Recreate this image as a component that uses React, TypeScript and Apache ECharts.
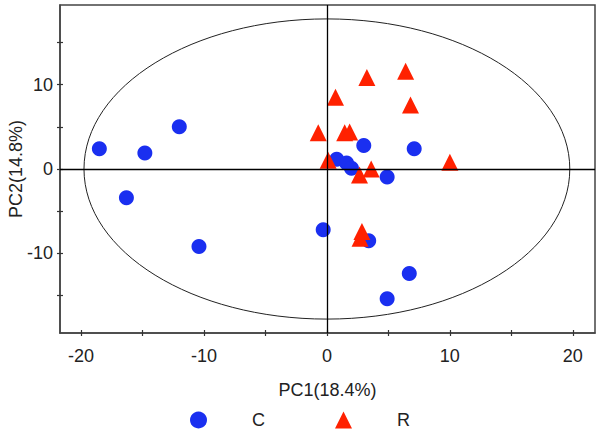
import React, { useEffect, useRef } from "react";
import * as echarts from "echarts";

// ---- data ----
const seriesNames = ["C", "R"];
const cPoints: number[][] = [
  [-18.5, 2.4],
  [-14.8, 1.9],
  [-12.0, 5.0],
  [-16.3, -3.4],
  [-10.4, -9.2],
  [-0.3, -7.2],
  [3.0, 2.8],
  [7.1, 2.4],
  [4.9, -0.95],
  [3.4, -8.5],
  [6.7, -12.4],
  [4.9, -15.4],
  [0.8, 1.15],
  [1.6, 0.7],
  [2.0, 0.1],
];
const rPoints: number[][] = [
  [6.4, 11.6],
  [3.25, 10.85],
  [0.7, 8.5],
  [6.8, 7.6],
  [-0.7, 4.3],
  [1.45, 4.3],
  [1.85, 4.4],
  [0.1, 1.05],
  [10.0, 0.8],
  [3.6, 0.0],
  [2.65, -0.7],
  [2.85, -7.4],
  [2.7, -8.2],
];
// confidence ellipse: centre and semi-axes (data units)
const ellipseCenter = [0, 0];
const ellipseRadii = [19.75, 17.8];

const xRange = [-21.7, 21.8];
const yRange = [-19.45, 19.45];
const xTickValues = [-20, -15, -10, -5, 0, 5, 10, 15, 20];
const xLabelValues = [-20, -10, 0, 10, 20];
const yTickValues = [-15, -10, -5, 0, 5, 10, 15];
const yLabelValues = [-10, 0, 10];
const xName = "PC1(18.4%)";
const yName = "PC2(14.8%)";

const FONT = "'Liberation Sans', Arial, sans-serif";

export default function App() {
  const ref = useRef<HTMLDivElement>(null);

  useEffect(() => {
    if (!ref.current) return;
    const chart = echarts.init(ref.current, null, { renderer: "svg" });

    const tickStyle = { color: "#333", width: 1.2 };
    const axisCommon = {
      type: "value",
      nameLocation: "middle",
      nameMoveOverlap: false,
      splitLine: { show: false },
      axisLine: { show: true, onZero: false, lineStyle: { color: "#444", width: 1.5 } },
      axisTick: { show: true, inside: false, length: 3, lineStyle: tickStyle },
      nameTextStyle: { fontFamily: FONT, fontSize: 18, color: "#222" },
    };
    const innerTickAxis = {
      type: "value",
      splitLine: { show: false },
      axisLine: { show: false, onZero: false },
      axisLabel: { show: false },
      axisTick: { show: true, inside: true, length: 3, lineStyle: tickStyle },
    };

    chart.setOption({
      animation: false,
      backgroundColor: "#fff",
      grid: {
        left: 60,
        right: 5,
        top: 5,
        bottom: 98,
        show: true,
        containLabel: false,
        outerBoundsMode: "none",
        borderColor: "#444",
        borderWidth: 1.5,
      },
      legend: {
        data: seriesNames,
        left: 185,
        top: 406,
        itemWidth: 17,
        itemHeight: 17,
        itemGap: 70,
        textStyle: {
          fontFamily: FONT,
          fontSize: 18,
          color: "#222",
          padding: [0, 0, 0, 40],
        },
      },
      xAxis: [
        {
          ...axisCommon,
          min: xRange[0],
          max: xRange[1],
          name: xName,
          nameGap: 48,
          axisTick: { ...axisCommon.axisTick, customValues: xTickValues },
          axisLabel: {
            customValues: xLabelValues,
            margin: 14,
            fontFamily: FONT,
            fontSize: 18,
            color: "#222",
          },
        },
        {
          ...innerTickAxis,
          position: "bottom",
          min: xRange[0],
          max: xRange[1],
          axisTick: { ...innerTickAxis.axisTick, customValues: xTickValues },
        },
      ],
      yAxis: [
        {
          ...axisCommon,
          min: yRange[0],
          max: yRange[1],
          name: yName,
          nameGap: 35,
          axisTick: { ...axisCommon.axisTick, customValues: yTickValues },
          axisLabel: {
            customValues: yLabelValues,
            margin: 7,
            fontFamily: FONT,
            fontSize: 18,
            color: "#222",
          },
        },
        {
          ...innerTickAxis,
          position: "left",
          min: yRange[0],
          max: yRange[1],
          axisTick: { ...innerTickAxis.axisTick, customValues: yTickValues },
        },
      ],
      series: [
        {
          type: "custom",
          name: "ellipse",
          z: 1,
          silent: true,
          data: [ellipseCenter],
          renderItem: (params: any, api: any) => {
            const c = api.coord([ellipseCenter[0], ellipseCenter[1]]);
            const ex = api.coord([ellipseCenter[0] + ellipseRadii[0], ellipseCenter[1]]);
            const ey = api.coord([ellipseCenter[0], ellipseCenter[1] + ellipseRadii[1]]);
            return {
              type: "ellipse",
              shape: {
                cx: c[0],
                cy: c[1],
                rx: Math.abs(ex[0] - c[0]),
                ry: Math.abs(c[1] - ey[1]),
              },
              style: { fill: "none", stroke: "#222", lineWidth: 1 },
            };
          },
          markLine: {
            silent: true,
            symbol: "none",
            label: { show: false },
            lineStyle: { color: "#000", width: 1.3, type: "solid" },
            data: [{ xAxis: 0 }, { yAxis: 0 }],
          },
        },
        {
          type: "scatter",
          name: seriesNames[0],
          z: 3,
          symbol: "circle",
          symbolSize: 15,
          itemStyle: { color: "#1a2ff0", opacity: 1 },
          data: cPoints,
        },
        {
          type: "scatter",
          name: seriesNames[1],
          z: 4,
          symbol: "triangle",
          symbolSize: 17,
          itemStyle: { color: "#ff2100", opacity: 1 },
          data: rPoints,
        },
      ],
    });

    return () => chart.dispose();
  }, []);

  return (
    <div
      ref={ref}
      style={{ position: "fixed", left: 0, top: 0, width: 600, height: 431, background: "#fff" }}
    />
  );
}
